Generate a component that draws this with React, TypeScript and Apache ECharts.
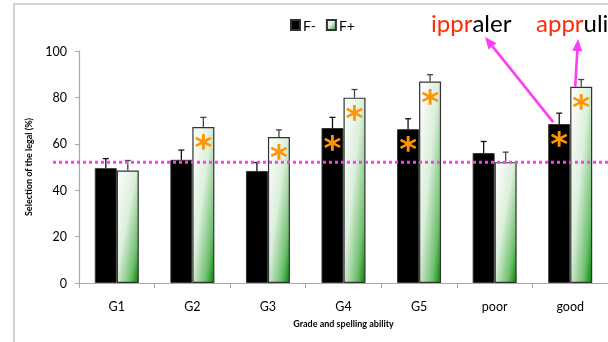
import React, { useEffect, useRef } from "react";
import * as echarts from "echarts";

const categories = ["G1", "G2", "G3", "G4", "G5", "poor", "good"];
const fMinus = [49.5, 53.1, 48.3, 66.8, 66.3, 56.0, 68.5];
const fPlus = [48.5, 67.2, 62.9, 79.9, 86.8, 52.1, 84.6];
const fMinusErr = [4.1, 4.2, 3.6, 4.6, 4.5, 5.0, 4.7];
const fPlusErr = [4.3, 4.2, 3.1, 3.5, 3.0, 4.3, 3.1];
const fMinusSig = [false, false, false, true, true, false, true];
const fPlusSig = [false, true, true, true, true, false, true];
const chanceLevel = 52;
const yMin = 0;
const yMax = 100;
const yInterval = 20;

const BAR_W = 22;
const MAGENTA = "#ff3cf5";
const ORANGE = "#ff9500";
const RED = "#ff2a0a";
const FONT = "Lato, 'Open Sans', sans-serif";

const greenGrad = () =>
  new echarts.graphic.LinearGradient(0, 0, 1, 1, [
    { offset: 0, color: "#ffffff" },
    { offset: 0.45, color: "#dcefdc" },
    { offset: 0.8, color: "#6fbf6f" },
    { offset: 1, color: "#008a00" },
  ]);

function errSeries(name: string, vals: number[], errs: number[], side: number, color: string) {
  return {
    type: "custom",
    name: name + "err",
    z: 5,
    data: vals.map((v, i) => [i, v, v + errs[i]]),
    renderItem: (params: any, api: any) => {
      const i = api.value(0);
      const lo = api.coord([i, api.value(1)]);
      const hi = api.coord([i, api.value(2)]);
      const x = lo[0] + side * (BAR_W / 2);
      return {
        type: "group",
        children: [
          { type: "line", shape: { x1: x, y1: lo[1], x2: x, y2: hi[1] }, style: { stroke: color, lineWidth: 1.3 } },
          { type: "line", shape: { x1: x - 3, y1: hi[1], x2: x + 3, y2: hi[1] }, style: { stroke: color, lineWidth: 1.3 } },
        ],
      };
    },
  };
}

function arrow(tail: number[], tip: number[]) {
  const dx = tip[0] - tail[0];
  const dy = tip[1] - tail[1];
  const len = Math.sqrt(dx * dx + dy * dy);
  const ux = dx / len;
  const uy = dy / len;
  const hl = 12;
  const hw = 5;
  const bx = tip[0] - ux * hl;
  const by = tip[1] - uy * hl;
  return [
    { type: "line", z: 100, shape: { x1: tail[0], y1: tail[1], x2: bx, y2: by }, style: { stroke: MAGENTA, lineWidth: 2.6 } },
    {
      type: "polygon",
      z: 100,
      shape: { points: [tip, [bx - uy * hw, by + ux * hw], [bx + uy * hw, by - ux * hw]] },
      style: { fill: MAGENTA },
    },
  ];
}

const starLabel = (sig: boolean[]) => ({
  show: true,
  position: "insideTop",
  distance: 3,
  formatter: (p: any) => (sig[p.dataIndex] ? "*" : ""),
  color: ORANGE,
  fontSize: 34,
  fontWeight: "bold",
  fontFamily: "'DejaVu Sans', sans-serif",
});

export default function App() {
  const ref = useRef<HTMLDivElement>(null);
  useEffect(() => {
    if (!ref.current) return;
    const chart = echarts.init(ref.current, undefined, { renderer: "svg" });
    const option: any = {
      animation: false,
      grid: { left: 79, right: -9, top: 51, bottom: 59, containLabel: false },
      legend: {
        left: 285,
        top: 13,
        itemWidth: 9,
        itemHeight: 10,
        itemGap: 10,
        icon: "rect",
        textStyle: { fontFamily: FONT, fontSize: 14, color: "#000", padding: [0, 0, 0, -2] },
        data: ["F-", "F+"],
      },
      xAxis: {
        type: "category",
        data: categories,
        name: "Grade and spelling ability",
        nameLocation: "middle",
        nameGap: 36,
        nameTextStyle: { fontFamily: FONT, fontSize: 9, fontWeight: "bold", color: "#000" },
        axisLine: { lineStyle: { color: "#a8a8a8", width: 1.2 } },
        axisTick: { show: true, length: 5, lineStyle: { color: "#a8a8a8" } },
        axisLabel: { fontFamily: FONT, fontSize: 12.5, color: "#000", margin: 17 },
      },
      yAxis: {
        type: "value",
        min: yMin,
        max: yMax,
        interval: yInterval,
        name: "Selection of the legal (%)",
        nameLocation: "middle",
        nameGap: 46,
        nameRotate: 90,
        nameTextStyle: { fontFamily: FONT, fontSize: 9, fontWeight: "bold", color: "#000" },
        axisLine: { show: true, lineStyle: { color: "#a8a8a8", width: 1.2 } },
        axisTick: { show: true, length: 4, lineStyle: { color: "#a8a8a8" } },
        axisLabel: { fontFamily: FONT, fontSize: 12.5, color: "#000", margin: 12 },
        splitLine: { show: false },
      },
      series: [
        {
          name: "F-",
          type: "bar",
          barWidth: BAR_W,
          barGap: "0%",
          data: fMinus,
          itemStyle: { color: "#000", borderColor: "#333", borderWidth: 1 },
          label: starLabel(fMinusSig),
        },
        {
          name: "F+",
          type: "bar",
          barWidth: BAR_W,
          barGap: "0%",
          data: fPlus,
          itemStyle: { color: greenGrad(), borderColor: "#333", borderWidth: 1.2 },
          label: starLabel(fPlusSig),
        },
        errSeries("F-", fMinus, fMinusErr, -1, "#111"),
        errSeries("F+", fPlus, fPlusErr, 1, "#444"),
      ],
    };
    chart.setOption(option);

    const yLine = chart.convertToPixel({ yAxisIndex: 0 }, chanceLevel) as number;
    const good = categories.length - 1;
    const pBlack = chart.convertToPixel({ gridIndex: 0 }, [good, fMinus[good]]) as number[];
    const pGreen = chart.convertToPixel({ gridIndex: 0 }, [good, fPlus[good]]) as number[];

    const graphic: any[] = [
      {
        type: "rect",
        z: 100,
        shape: { x: 14, y: 4, width: 700, height: 400 },
        style: { fill: "none", stroke: "#c4c4c4", lineWidth: 1.5 },
      },
      {
        type: "line",
        z: 100,
        shape: { x1: 53, y1: yLine, x2: 608, y2: yLine },
        style: { stroke: MAGENTA, lineWidth: 3, lineDash: [3, 3] },
      },
      ...arrow([pBlack[0] - 17, pBlack[1] - 2], [485, 37]),
      ...arrow([pGreen[0] + 5, pGreen[1]], [578, 39]),
      {
        type: "text",
        z: 100,
        x: 431,
        y: 10,
        style: {
          text: "{r|ippr}{k|aler}",
          rich: {
            r: { fill: RED, fontSize: 24, fontFamily: FONT },
            k: { fill: "#000", fontSize: 24, fontFamily: FONT },
          },
        },
      },
      {
        type: "text",
        z: 100,
        x: 536,
        y: 10,
        style: {
          text: "{r|appr}{k|uli}",
          rich: {
            r: { fill: RED, fontSize: 24, fontFamily: FONT },
            k: { fill: "#000", fontSize: 24, fontFamily: FONT },
          },
        },
      },
    ];
    chart.setOption({ graphic });
    return () => chart.dispose();
  }, []);
  return <div ref={ref} style={{ position: "fixed", left: 0, top: 0, width: 608, height: 342 }} />;
}
